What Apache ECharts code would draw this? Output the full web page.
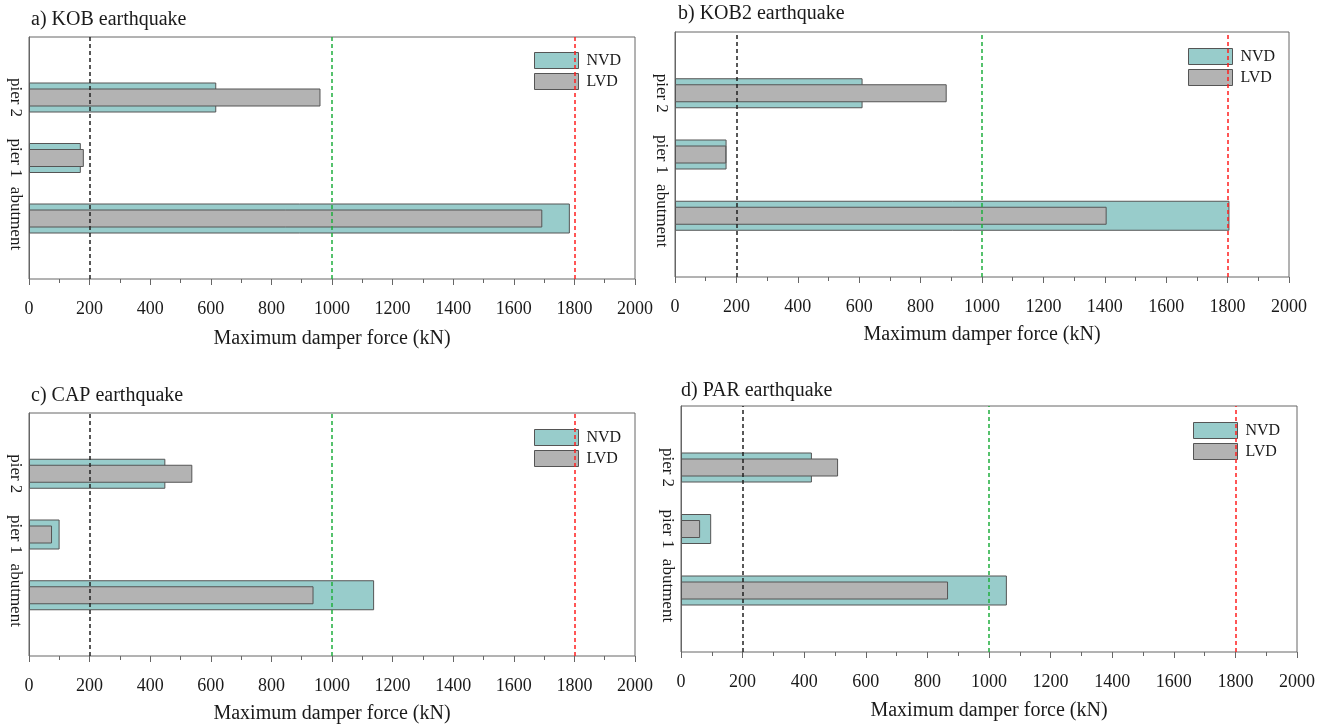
<!DOCTYPE html>
<html>
<head>
<meta charset="utf-8">
<script src="https://cdn.jsdelivr.net/npm/echarts@6/dist/echarts.min.js"></script>
<style>
  html, body { margin: 0; padding: 0; background: #fff; }
  #main { width: 1322px; height: 726px; }
</style>
</head>
<body>
<div id="main"></div>
<script>
// categories from bottom to top, empty slots pad the axis ends
const categories = ['', 'abutment', 'pier 1', 'pier 2', ''];
const panelTitles = ['a) KOB earthquake', 'b) KOB2 earthquake', 'c) CAP earthquake', 'd) PAR earthquake'];
// values per panel: abutment, pier 1, pier 2
const nvdValues = [
  [1785, 171, 618],
  [1806, 168, 611],
  [1139, 101, 450],
  [1058, 98, 425]
];
const lvdValues = [
  [1694, 181, 962],
  [1406, 167, 885],
  [939, 76, 539],
  [867, 62, 510]
];
const limitLines = [200, 1000, 1800];
const limitColors = ['#222222', '#1fae3e', '#ff1f1f'];
const xMin = 0, xMax = 2000, xStep = 200;

const font = '"Liberation Serif", "Times New Roman", serif';

// layout of the four panels (pixels)
const panels = [
  { left: 29, top: 37, width: 606, height: 242, titleLeft: 31, titleTop: 10, legendLeft: 534, legendTop: 52, nameGap: 50 },
  { left: 675, top: 32, width: 614, height: 245, titleLeft: 678, titleTop: 4, legendLeft: 1188, legendTop: 48, nameGap: 48 },
  { left: 29, top: 413, width: 606, height: 243, titleLeft: 31, titleTop: 386, legendLeft: 534, legendTop: 429, nameGap: 48 },
  { left: 681, top: 406, width: 616, height: 246, titleLeft: 681, titleTop: 381, legendLeft: 1193, legendTop: 422, nameGap: 49 }
];

function pad(vals) {
  return ['-'].concat(vals).concat(['-']);
}

const option = {
  animation: false,
  title: [],
  legend: [],
  grid: [],
  xAxis: [],
  yAxis: [],
  series: []
};

panels.forEach(function (p, i) {
  option.title.push({
    text: panelTitles[i],
    left: p.titleLeft,
    top: p.titleTop,
    padding: 0,
    textStyle: { fontFamily: font, fontSize: 20, fontWeight: 'normal', color: '#1a1a1a' }
  });
  option.legend.push({
    orient: 'vertical',
    left: p.legendLeft,
    top: p.legendTop,
    padding: 0,
    icon: 'rect',
    itemWidth: 44,
    itemHeight: 16,
    itemGap: 4,
    data: ['NVD', 'LVD'],
    itemStyle: { borderWidth: 1, borderColor: '#555' },
    textStyle: { fontFamily: font, fontSize: 16, color: '#1a1a1a', padding: [0, 0, 0, 3] }
  });
  option.grid.push({
    left: p.left,
    top: p.top,
    width: p.width,
    height: p.height,
    show: true,
    borderColor: '#666',
    borderWidth: 1,
    containLabel: false
  });
  option.xAxis.push({
    type: 'value',
    gridIndex: i,
    min: xMin,
    max: xMax,
    interval: xStep,
    name: 'Maximum damper force (kN)',
    nameLocation: 'middle',
    nameGap: p.nameGap,
    nameTextStyle: { fontFamily: font, fontSize: 20, color: '#1a1a1a' },
    axisLine: { lineStyle: { color: '#666', width: 1 } },
    axisTick: { show: true, length: 6, lineStyle: { color: '#666' } },
    minorTick: { show: true, splitNumber: 2, length: 4, lineStyle: { color: '#666' } },
    splitLine: { show: false },
    axisLabel: {
      fontFamily: font, fontSize: 18, color: '#1a1a1a', margin: 21,
      formatter: function (v) { return String(v); }
    }
  });
  option.yAxis.push({
    type: 'category',
    gridIndex: i,
    data: categories,
    boundaryGap: false,
    axisLine: { lineStyle: { color: '#666' } },
    axisTick: { show: false },
    splitLine: { show: false },
    axisLabel: { interval: 0, rotate: -90, margin: 5, fontFamily: font, fontSize: 17, color: '#1a1a1a' }
  });
  option.yAxis.push({
    type: 'category',
    gridIndex: i,
    data: categories,
    boundaryGap: false,
    show: false
  });
  option.series.push({
    name: 'NVD',
    type: 'bar',
    xAxisIndex: i,
    yAxisIndex: i * 2,
    barWidth: 30,
    data: pad(nvdValues[i]),
    itemStyle: { color: '#98cccb', borderColor: '#555', borderWidth: 1 },
    markLine: {
      silent: true,
      symbol: 'none',
      label: { show: false },
      data: limitLines.map(function (v, k) {
        return { xAxis: v, lineStyle: { color: limitColors[k], type: [4, 3], width: 1.5 } };
      })
    }
  });
  option.series.push({
    name: 'LVD',
    type: 'bar',
    xAxisIndex: i,
    yAxisIndex: i * 2 + 1,
    barWidth: 18,
    data: pad(lvdValues[i]),
    itemStyle: { color: '#b3b3b3', borderColor: '#555', borderWidth: 1 }
  });
});

const myChart = echarts.init(document.getElementById('main'));
myChart.setOption(option);
</script>
</body>
</html>
